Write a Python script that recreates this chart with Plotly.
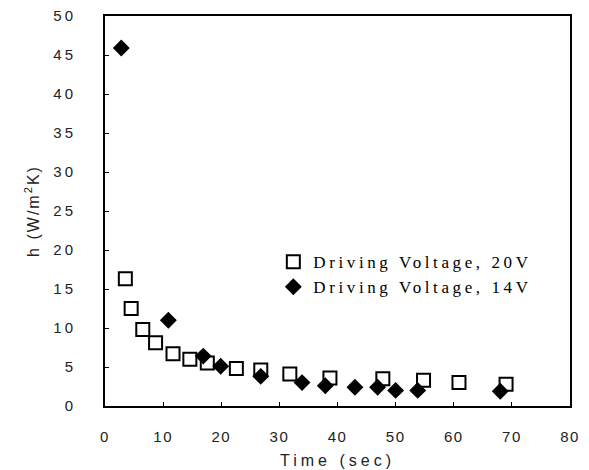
import plotly.graph_objects as go

# Heat transfer coefficient vs. time for two driving voltages
time_20v = [3.5, 4.5, 6.5, 8.7, 11.7, 14.6, 17.6, 22.6, 26.8, 31.8, 38.7, 47.8, 54.8, 60.9, 69.0]
h_20v = [16.3, 12.5, 9.8, 8.1, 6.7, 6.0, 5.5, 4.8, 4.6, 4.1, 3.6, 3.5, 3.3, 3.0, 2.8]

time_14v = [2.8, 10.9, 16.9, 19.9, 26.8, 33.9, 37.9, 43.0, 46.9, 50.0, 53.8, 68.0]
h_14v = [45.9, 11.0, 6.4, 5.1, 3.8, 3.0, 2.6, 2.4, 2.4, 2.0, 2.0, 1.9]

x_ticks = [0, 10, 20, 30, 40, 50, 60, 70, 80]
y_ticks = [0, 5, 10, 15, 20, 25, 30, 35, 40, 45, 50]

SANS = "Liberation Sans, Arial, sans-serif"


def spaced(s, px=1.5):
    return f'<span style="letter-spacing:{px}px">{s}</span>'


fig = go.Figure()
fig.add_trace(go.Scatter(
    x=time_20v, y=h_20v, mode="markers",
    name=spaced("Driving Voltage, 20V", 3.6),
    marker=dict(symbol="square-open", size=13, color="black", line=dict(width=2)),
))
fig.add_trace(go.Scatter(
    x=time_14v, y=h_14v, mode="markers",
    name=spaced("Driving Voltage, 14V", 3.6),
    marker=dict(symbol="diamond", size=13, color="black", line=dict(width=0)),
))

axis_common = dict(
    showgrid=False, zeroline=False, showline=True, linecolor="black", linewidth=2,
    mirror=True, ticks="inside", ticklen=4, tickcolor="black", tickwidth=1,
    tickfont=dict(family=SANS, size=15, color="#222"), automargin=False,
)

fig.update_layout(
    width=589, height=470,
    margin=dict(l=105, r=19, t=16, b=64),
    paper_bgcolor="white", plot_bgcolor="white",
    showlegend=True,
    legend=dict(
        x=0.362, y=0.415, xanchor="left", yanchor="top",
        font=dict(family="Liberation Serif, DejaVu Serif, serif", size=17, color="black"),
        bgcolor="rgba(0,0,0,0)", itemwidth=30, tracegroupgap=0,
    ),
    xaxis=dict(
        range=[0, 80], tickvals=x_ticks,
        ticktext=[spaced(str(v), 1.5) for v in x_ticks],
        ticklabelstandoff=16,
        title=dict(text=spaced("Time (sec)", 4), standoff=11,
                   font=dict(family=SANS, size=16, color="#222")),
        **axis_common,
    ),
    yaxis=dict(
        range=[0, 50], tickvals=y_ticks,
        ticktext=[spaced(str(v), 3) for v in y_ticks],
        ticklabelstandoff=24,
        title=dict(text=spaced("h (W/m<sup>2</sup>K)", 2), standoff=10,
                   font=dict(family=SANS, size=16, color="#222")),
        **axis_common,
    ),
)

fig.write_html("out.html")
